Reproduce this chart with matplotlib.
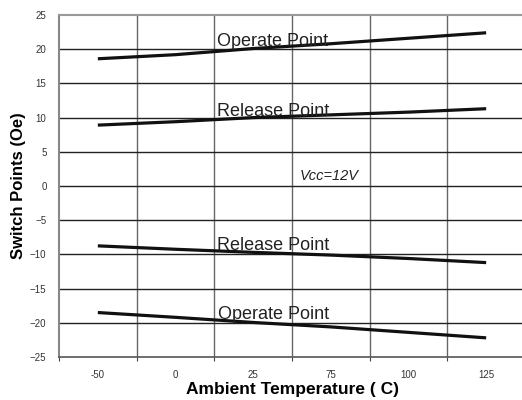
import numpy as np
import matplotlib
matplotlib.use('Agg')
from matplotlib import pyplot as plt

# Дані з графіка
temps = ['-50', '0', '25', '75', '100', '125']
operate_pos = [18.6, 19.2, 20.1, 20.8, 21.6, 22.4]
release_pos = [8.9, 9.4, 10.0, 10.4, 10.8, 11.3]
release_neg = [-8.75, -9.25, -9.7, -10.1, -10.6, -11.2]
operate_neg = [-18.5, -19.2, -19.95, -20.6, -21.4, -22.2]

plt.rcParams['font.family'] = ['Liberation Sans', 'DejaVu Sans']

fig = plt.figure(figsize=(5.22, 4.0), dpi=100)
ax = fig.add_axes([59 / 522, 43 / 400, 466 / 522, 342 / 400])

x = np.arange(len(temps))
for series in [operate_pos, release_pos, release_neg, operate_neg]:
    ax.plot(x, series, color='#111111', lw=2.3, solid_capstyle='butt', zorder=3)

ax.set_xlim(-0.5, len(temps) - 0.5)
ax.set_ylim(-25, 25)

# Сітка: вертикальні лінії між категоріями
ax.set_xticks(np.arange(len(temps) + 1) - 0.5)
ax.set_xticklabels([])
ax.set_xticks(x, minor=True)
ax.set_xticklabels(temps, minor=True)
ax.tick_params(axis='x', which='major', length=3, direction='out', color='#444444')
ax.tick_params(axis='x', which='minor', length=0, pad=9, labelsize=7, labelcolor='#333333')
ax.set_yticks(np.arange(-25, 26, 5))
ax.tick_params(axis='y', length=0, pad=9, labelsize=7, labelcolor='#333333')

for xv in np.arange(1, len(temps)) - 0.5:
    ax.axvline(xv, color='#666666', lw=1.0, zorder=1)
for yv in np.arange(-20, 25, 5):
    ax.axhline(yv, color='#222222', lw=1.0, zorder=1)

ax.spines['right'].set_visible(False)
ax.spines['top'].set_color('#999999')
ax.spines['top'].set_linewidth(1.5)
ax.spines['left'].set_color('#888888')
ax.spines['left'].set_linewidth(1.5)
ax.spines['bottom'].set_color('#555555')
ax.spines['bottom'].set_linewidth(1.2)

# Підписи ліній
lab = dict(fontsize=13, color='#222222', ha='left', va='baseline', zorder=4)
ax.text(1.54, 20.4, 'Operate Point', **lab)
ax.text(1.54, 10.2, 'Release Point', **lab)
ax.text(1.54, -9.4, 'Release Point', **lab)
ax.text(1.55, -19.45, 'Operate Point', **lab)
ax.text(2.6, 0.9, 'Vcc=12V', fontsize=10.5, style='italic', color='#222222')

ax.set_xlabel('Ambient Temperature ( C)', fontsize=12.5, fontweight='bold', labelpad=2)
ax.set_ylabel('Switch Points (Oe)', fontsize=12, fontweight='bold', labelpad=3)

fig.savefig('out.png', dpi=100)
